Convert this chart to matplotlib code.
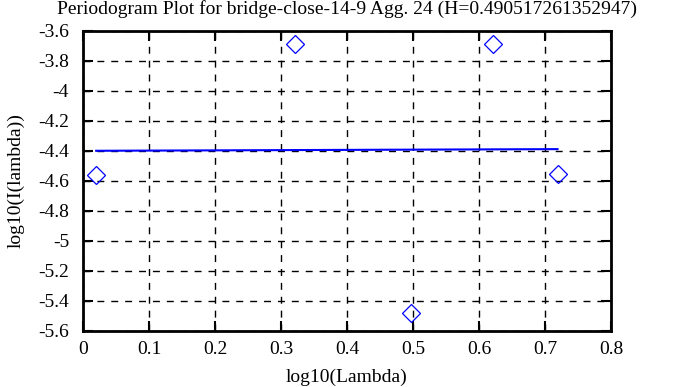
import matplotlib
matplotlib.use("Agg")
from matplotlib import pyplot as plt
from matplotlib.ticker import FormatStrFormatter
import numpy as np

# periodogram points (log10 lambda, log10 I(lambda))
log_lambda = [0.020, 0.321, 0.497, 0.622, 0.719]
log_power = [-4.560, -3.688, -5.478, -3.688, -4.555]

# least squares fit line endpoints
fit_x = [0.020, 0.719]
fit_y = [-4.399, -4.388]

x_ticks = [0, 0.1, 0.2, 0.3, 0.4, 0.5, 0.6, 0.7, 0.8]
y_ticks = [-5.6, -5.4, -5.2, -5.0, -4.8, -4.6, -4.4, -4.2, -4.0, -3.8, -3.6]

title = "Periodogram Plot for bridge-close-14-9 Agg. 24 (H=0.490517261352947)"

plt.rcParams['font.family'] = ['Liberation Serif', 'DejaVu Serif']
plt.rcParams['font.size'] = 14

fig = plt.figure(figsize=(6.95, 3.87), dpi=100)
ax = fig.add_axes([0.1194, 0.145, 0.7597, 0.775])

ax.plot(fit_x, fit_y, color='#0000ff', lw=1.5, zorder=3)
ax.plot(log_lambda, log_power, ls='none', marker='D', ms=9, mfc='none',
        mec='#0000ff', mew=0.9, zorder=4)

ax.set_xlim(0, 0.8)
ax.set_ylim(-5.6, -3.6)
ax.set_xticks(x_ticks)
ax.set_yticks(y_ticks)
ax.xaxis.set_major_formatter(FormatStrFormatter('%g'))
ax.yaxis.set_major_formatter(FormatStrFormatter('%g'))
ax.tick_params(direction='in', length=7, width=1.5, top=True, right=True,
               labelsize=14)
ax.tick_params(axis='y', pad=10)
ax.tick_params(axis='x', pad=7)
ax.grid(True, color='black', ls=(0, (5, 5)), lw=1.0)
for s in ax.spines.values():
    s.set_linewidth(2)

ax.set_title(title, fontsize=14, pad=12)
ax.set_xlabel('log10(Lambda)', fontsize=14, labelpad=8)
ax.set_ylabel('log10(I(lambda))', fontsize=14, labelpad=10)

fig.savefig('out.png', dpi=100)
